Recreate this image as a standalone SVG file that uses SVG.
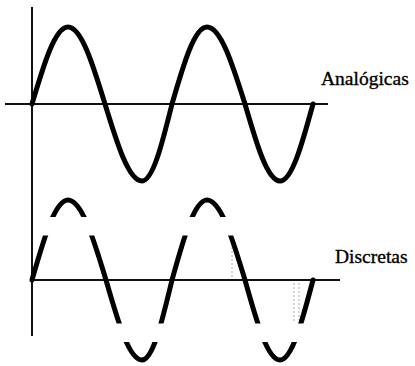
<svg xmlns="http://www.w3.org/2000/svg" width="415" height="366" viewBox="0 0 415 366">
<style>
.axis{stroke:#111;stroke-width:2;fill:none}
.wave{stroke:#000;stroke-width:5;fill:none;stroke-linecap:round;stroke-linejoin:round}
.lbl{font-family:"Liberation Serif","Times New Roman",serif;font-size:19.5px;fill:#000;stroke:#000;stroke-width:0.35}
.faint{stroke:#777;stroke-width:1;stroke-dasharray:2 2;fill:none;opacity:0.6}
</style>
<defs>
<clipPath id="gaps">
<rect x="0" y="0" width="415" height="217"/>
<rect x="0" y="235.5" width="415" height="88"/>
<rect x="0" y="342" width="415" height="30"/>
</clipPath>
</defs>
<rect width="415" height="366" fill="#fff"/>
<g id="axes">
<line class="axis" x1="32" y1="7" x2="32" y2="336"/>
<line class="axis" x1="5" y1="104" x2="328" y2="104"/>
<line class="axis" x1="32" y1="280" x2="340" y2="280"/>
</g>
<g id="faint-marks">
<line class="faint" x1="232" y1="243" x2="232" y2="278"/>
<line class="faint" x1="294" y1="283" x2="294" y2="322"/>
<line class="faint" x1="299" y1="283" x2="299" y2="320"/>
</g>
<g id="analogicas">
<path class="wave" d="M32,104 C43.74,64.55 54.97,27 68,27 C81.39,27 92.93,64.55 105,104 C117.07,143.45 128.61,181 142,181 C152.86,181 162.22,143.45 172,104 C183.41,64.55 194.33,27 207,27 C220.75,27 232.61,64.55 245,104 C256.41,143.45 267.33,181 280,181 C291.94,181 302.24,143.45 313,104"/>
<text class="lbl" x="321" y="85">Analógicas</text>
</g>
<g id="discretas">
<path class="wave" clip-path="url(#gaps)" d="M32,280 C43.74,239.02 54.97,200 68,200 C81.75,200 93.61,239.02 106,280 C117.74,320.98 128.97,360 142,360 C152.86,360 162.22,320.98 172,280 C183.41,239.02 194.33,200 207,200 C220.75,200 232.61,239.02 245,280 C256.41,320.98 267.33,360 280,360 C291.94,360 302.24,320.98 313,280"/>
<text class="lbl" x="335" y="263">Discretas</text>
</g>
</svg>
